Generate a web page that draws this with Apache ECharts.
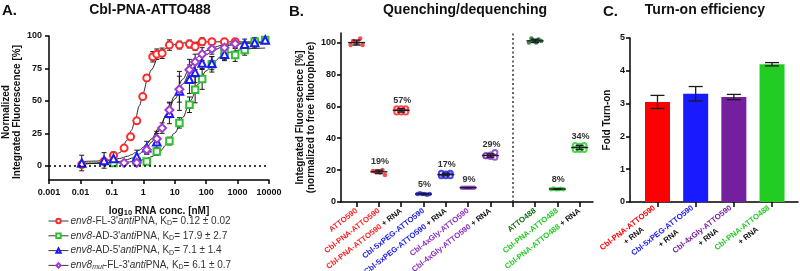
<!DOCTYPE html>
<html>
<head>
<meta charset="utf-8">
<script src="https://cdn.jsdelivr.net/npm/echarts@6.0.0/dist/echarts.min.js"></script>
<style>
html,body{margin:0;padding:0;background:#ffffff;}
#chart{width:800px;height:271px;}
</style>
</head>
<body>
<div id="chart"></div>
<script>
// ================= DATA =================
// ---- Panel A: binding curves ----
const aTickLabels = ['0.001', '0.01', '0.1', '1', '10', '100', '1000', '10000'];
const aYTicks = [0, 25, 50, 75, 100];

// env8-FL-3'antiPNA (red circles)
const redConc = [0.011, 0.0565, 0.113, 0.245, 0.394, 0.62, 0.96, 1.29, 2.0, 2.69, 3.97, 6.78, 14.1, 29.4, 44.6, 74.6, 152, 383, 839];
const redVal  = [0.8, 3.3, 7.9, 13.6, 22.3, 34.6, 53.3, 67.7, 84, 86, 86.7, 93, 93, 93.8, 92, 95.6, 95.6, 95.6, 95.6];
const redSD   = [0.5, 1, 1.5, 1.5, 2, 2, 2, 2.5, 4, 4, 4, 4, 3, 3, 3, 3, 2, 2, 2];

// env8-AD-3'antiPNA (green squares)
const greenConc = [0.113, 0.62, 1.29, 2.69, 6.78, 14.1, 29.4, 44.6, 74.6, 152, 383, 839, 1685, 3505, 7586];
const greenVal  = [2.1, 3.3, 3.3, 11, 19, 33, 47, 58.5, 66.9, 78.2, 86.7, 85.4, 89.2, 95.6, 96.9];
const greenSD   = [1, 1, 1.5, 3, 3, 4, 6, 10, 8, 6, 5, 5, 4, 3, 2];

// env8-AD-5'antiPNA (blue triangles)
const blueConc = [0.011, 0.0565, 0.113, 0.62, 1.29, 2.69, 6.78, 14.1, 29.4, 44.6, 74.6, 152, 383, 1685, 3505, 7586];
const blueVal  = [2.1, 4.1, 5.5, 7, 13.8, 18.5, 40.4, 57.7, 66.7, 72, 79.2, 79, 86, 93.6, 94.9, 96.9];
const blueSD   = [6, 6, 5, 5, 5, 8, 8, 15, 11, 8, 5, 5, 5, 4, 4, 2];

// env8mut-FL-3'antiPNA (purple diamonds)
const purpleConc = [0.245, 0.62, 1.29, 2.69, 3.97, 6.78, 14.1, 29.4, 44.6, 74.6, 152, 383, 839];
const purpleVal  = [2.2, 2.3, 12.3, 20.8, 29, 43, 59, 74, 80, 86, 90, 91, 94];
const purpleSD   = [1, 1, 3, 4, 4, 6, 10, 8, 6, 5, 4, 4, 3];

// fitted curves
const fitConc   = [0.01, 0.0316, 0.0562, 0.1, 0.178, 0.316, 0.422, 0.562, 0.75, 1, 1.33, 1.78, 3.16, 5.62, 10, 17.8, 31.6, 56.2, 100, 178, 316, 562, 1000, 1778, 3162, 7586];
const redFit    = [1.13, 1.75, 2.75, 5.04, 10.05, 20, 27.4, 36.3, 46.2, 56.3, 65.7, 73.8, 84.9, 90.7, 93.4, 94.6, 95.1, 95.3, 95.4, 95.5, 95.5, 95.5, 95.5, 95.5, 95.5, 95.5];
const greenFit  = [2.02, 2.07, 2.14, 2.25, 2.46, 2.83, 3.12, 3.51, 4.03, 4.72, 5.65, 6.86, 10.5, 16.4, 25.2, 37, 50.3, 62.9, 73.1, 80.2, 84.7, 87.5, 89, 89.9, 90.4, 90.75];
const blueFit   = [3.2, 3.57, 3.95, 4.59, 5.64, 7.34, 8.54, 10.1, 11.95, 14.3, 17.1, 20.5, 29, 39.6, 51.4, 62.9, 72.7, 80.3, 85.6, 89.2, 91.4, 92.8, 93.7, 94.2, 94.5, 94.8];
const purpleFit = [1.6, 1.82, 2.07, 2.52, 3.33, 4.76, 5.83, 7.24, 9.06, 11.4, 14.3, 18, 27.6, 40, 53.8, 66.6, 76.8, 84, 88.6, 91.3, 92.9, 93.9, 94.4, 94.7, 94.8, 95];

// ---- Panel B: quenching / dequenching (replicates, %) ----
const bNames   = ['ATTO590', 'Cbl-PNA-ATTO590', 'Cbl-PNA-ATTO590', 'Cbl-5xPEG-ATTO590', 'Cbl-5xPEG-ATTO590', 'Cbl-4xGly-ATTO590', 'Cbl-4xGly-ATTO590', '', 'ATTO488', 'Cbl-PNA-ATTO488', 'Cbl-PNA-ATTO488'];
const bWithRNA = [false, false, true, false, true, false, true, false, false, false, true];
const bPctLabels = ['', '19%', '57%', '5%', '17%', '9%', '29%', '', '', '8%', '34%'];
const bYTicks = [0, 20, 40, 60, 80, 100];
const bATTO590    = [98.5, 101, 99.5, 100, 102.5, 98.5];
const bPNA590     = [19.5, 19, 19.5, 18.5, 20, 17];
const bPNA590RNA  = [58.5, 56.5, 58.5, 56.5, 58.5, 56.5];
const bPEG590     = [5, 5.5, 5, 5, 4.5, 5];
const bPEG590RNA  = [16.5, 18, 17.5, 16.5, 18, 16.5];
const bGly590     = [9, 9, 9, 9, 9, 9];
const bGly590RNA  = [29, 29, 28.5, 29.5, 31, 28];
const bATTO488    = [100, 102.5, 101, 100, 102, 101];
const bPNA488     = [8, 8.5, 8, 8, 8.3, 8];
const bPNA488RNA  = [35.5, 33, 35, 33, 35.5, 33];

// ---- Panel C: turn-on efficiency ----
const cNames = ['Cbl-PNA-ATTO590', 'Cbl-5xPEG-ATTO590', 'Cbl-4xGly-ATTO590', 'Cbl-PNA-ATTO488'];
const cFold  = [3.05, 3.3, 3.2, 4.2];
const cErr   = [0.2, 0.22, 0.08, 0.05];
const cYTicks = [0, 1, 2, 3, 4, 5];

// ================= STYLE / LAYOUT =================
const FONT = '"Liberation Sans", Arial, Helvetica, sans-serif';
const INK = '#111';
const RED = '#ff2a2a', GREEN_A = '#2fbf2f', BLUE = '#1a1aff', PURPLE_A = '#a13ad0';
const B_RED = '#ff1f1f', B_BLUE = '#1b1be6', B_PURPLE = '#8a2fbf', B_DKGREEN = '#0d6e0d', B_GREEN = '#22cc22';
const jitterFilled = [-0.27, -0.16, -0.05, 0.05, 0.16, 0.27];
const jitterOpen   = [-0.2, -0.2, 0, 0, 0.2, 0.2];

const chart = echarts.init(document.getElementById('chart'), null, {renderer: 'canvas'});

function axisCommon() {
  return {
    axisLine: {onZero: false, lineStyle: {color: '#000', width: 1.5}},
    axisTick: {length: 4, lineStyle: {color: '#000', width: 1.5}},
    splitLine: {show: false},
    axisLabel: {color: INK, fontSize: 9, fontWeight: 'bold', fontFamily: FONT, margin: 6}
  };
}
function merge(a, b) {
  const o = Object.assign({}, a);
  for (const k in b) {
    if (b[k] && typeof b[k] === 'object' && !Array.isArray(b[k]) && a[k] && typeof a[k] === 'object') o[k] = Object.assign({}, a[k], b[k]);
    else o[k] = b[k];
  }
  return o;
}

function errRender(capPx, lw) {
  return function (params, api) {
    const x = api.value(0), y = api.value(1), e = api.value(2);
    const t = api.coord([x, y + e]);
    const b = api.coord([x, y - e]);
    const st = {stroke: '#1a1a1a', lineWidth: lw, fill: null};
    return {type: 'group', children: [
      {type: 'line', shape: {x1: t[0], y1: t[1], x2: b[0], y2: b[1]}, style: st},
      {type: 'line', shape: {x1: t[0] - capPx, y1: t[1], x2: t[0] + capPx, y2: t[1]}, style: st},
      {type: 'line', shape: {x1: b[0] - capPx, y1: b[1], x2: b[0] + capPx, y2: b[1]}, style: st}
    ]};
  };
}

// ---------- Panel A series ----------
const aSets = [
  {name: "env8-FL-3'antiPNA", conc: redConc, val: redVal, sd: redSD, fit: redFit, color: RED, symbol: 'emptyCircle', size: 7},
  {name: "env8-AD-3'antiPNA", conc: greenConc, val: greenVal, sd: greenSD, fit: greenFit, color: GREEN_A, symbol: 'emptyRect', size: 6.5},
  {name: "env8-AD-5'antiPNA", conc: blueConc, val: blueVal, sd: blueSD, fit: blueFit, color: BLUE, symbol: 'emptyTriangle', size: 7.5},
  {name: "env8mut-FL-3'antiPNA", conc: purpleConc, val: purpleVal, sd: purpleSD, fit: purpleFit, color: PURPLE_A, symbol: 'emptyDiamond', size: 8}
];
const legendRich = {
  "env8-FL-3'antiPNA": "{i|env8}{n|-FL-3'}{i|anti}{n|PNA, K}{s|D}{n|= 0.12 ± 0.02}",
  "env8-AD-3'antiPNA": "{i|env8}{n|-AD-3'}{i|anti}{n|PNA, K}{s|D}{n|= 17.9 ± 2.7}",
  "env8-AD-5'antiPNA": "{i|env8}{n|-AD-5'}{i|anti}{n|PNA, K}{s|D}{n|= 7.1 ± 1.4}",
  "env8mut-FL-3'antiPNA": "{i|env8}{si|mut}{n|-FL-3'}{i|anti}{n|PNA, K}{s|D}{n|= 6.1 ± 0.7}"
};

const series = [];
aSets.forEach((s, idx) => {
  series.push({
    name: 'fit' + idx, type: 'line', xAxisIndex: 0, yAxisIndex: 0, z: 2, silent: true,
    showSymbol: false, symbol: 'none', smooth: 0.35, smoothMonotone: 'x',
    lineStyle: {color: '#262626', width: 1},
    data: fitConc.map((c, i) => [c, s.fit[i]]),
    markLine: idx === 0 ? {silent: true, symbol: 'none', label: {show: false},
      lineStyle: {type: [2, 3], color: '#000', width: 1.5}, data: [{yAxis: 0}]} : undefined
  });
  series.push({
    name: 'err' + idx, type: 'custom', xAxisIndex: 0, yAxisIndex: 0, z: 3, silent: true,
    renderItem: errRender(2.5, 1),
    data: s.conc.map((c, i) => [c, s.val[i], s.sd[i]])
  });
});
aSets.forEach((s) => {
  series.push({
    name: s.name, type: 'line', xAxisIndex: 0, yAxisIndex: 0, z: 4,
    symbol: s.symbol, symbolSize: s.size, showAllSymbol: true,
    lineStyle: {color: '#3a3a3a', opacity: 0, width: 1},
    itemStyle: {color: s.color, borderColor: s.color, borderWidth: 1},
    data: s.conc.map((c, i) => [c, s.val[i]])
  });
});

// ---------- Panel B series ----------
const bGroups = [
  {k: 0, data: bATTO590, color: B_RED, open: false},
  {k: 1, data: bPNA590, color: B_RED, open: false},
  {k: 2, data: bPNA590RNA, color: B_RED, open: true},
  {k: 3, data: bPEG590, color: B_BLUE, open: false},
  {k: 4, data: bPEG590RNA, color: B_BLUE, open: true},
  {k: 5, data: bGly590, color: B_PURPLE, open: false},
  {k: 6, data: bGly590RNA, color: B_PURPLE, open: true},
  {k: 8, data: bATTO488, color: B_DKGREEN, open: false},
  {k: 9, data: bPNA488, color: B_GREEN, open: false},
  {k: 10, data: bPNA488RNA, color: B_GREEN, open: true}
];
bGroups.forEach((g, gi) => {
  const jit = g.open ? jitterOpen : jitterFilled;
  series.push({
    name: 'B' + g.k, type: 'scatter', xAxisIndex: 1, yAxisIndex: 1, z: 3,
    symbol: g.open ? 'emptyCircle' : 'circle', symbolSize: g.open ? 5 : 4.5,
    itemStyle: {color: g.color, borderColor: g.color, borderWidth: g.open ? 1 : 0},
    data: g.data.map((v, i) => [g.k + jit[i], v]),
    markLine: gi === 0 ? {silent: true, symbol: 'none', label: {show: false},
      lineStyle: {type: [2, 2.5], color: '#333', width: 1.5}, data: [{xAxis: 7}]} : undefined
  });
});
const bSummary = bGroups.map(g => {
  const n = g.data.length;
  const m = g.data.reduce((a, b) => a + b, 0) / n;
  const sd = Math.sqrt(g.data.reduce((a, b) => a + (b - m) * (b - m), 0) / (n - 1));
  return [g.k, m, sd, Math.max.apply(null, g.data)];
});
series.push({
  name: 'Bmean', type: 'custom', xAxisIndex: 1, yAxisIndex: 1, z: 5, silent: true,
  data: bSummary,
  renderItem: function (params, api) {
    const k = api.value(0), m = api.value(1), sd = api.value(2), mx = api.value(3);
    const c = api.coord([k, m]);
    const t = api.coord([k, m + sd]), b = api.coord([k, m - sd]);
    const top = api.coord([k, mx]);
    const st = {stroke: '#1c1c2a', lineWidth: 1.4};
    const kids = [
      {type: 'line', shape: {x1: c[0] - 8.5, y1: c[1], x2: c[0] + 8.5, y2: c[1]}, style: st},
      {type: 'line', shape: {x1: t[0], y1: t[1], x2: b[0], y2: b[1]}, style: st},
      {type: 'line', shape: {x1: t[0] - 4, y1: t[1], x2: t[0] + 4, y2: t[1]}, style: st},
      {type: 'line', shape: {x1: b[0] - 4, y1: b[1], x2: b[0] + 4, y2: b[1]}, style: st}
    ];
    const lbl = bPctLabels[Math.round(k)];
    if (lbl) {
      kids.push({type: 'text', x: c[0] + 1, y: top[1] - 4,
        style: {text: lbl, fill: '#333', font: 'bold 9px ' + FONT, align: 'center', verticalAlign: 'bottom'}});
    }
    return {type: 'group', children: kids};
  }
});

// ---------- Panel C series ----------
const cColors = ['#ff0000', '#1a1aff', '#74209e', '#22cc22'];
series.push({
  name: 'Cbars', type: 'bar', xAxisIndex: 2, yAxisIndex: 2, z: 2, barWidth: 25,
  data: cFold.map((v, i) => ({value: [i, v], itemStyle: {color: cColors[i]}}))
});
series.push({
  name: 'Cerr', type: 'custom', xAxisIndex: 2, yAxisIndex: 2, z: 5, silent: true,
  renderItem: errRender(7, 1.3),
  data: cFold.map((v, i) => [i, v, cErr[i]])
});

// ================= OPTION =================
const bRichBase = {fontSize: 7.8, fontWeight: 'bold', fontFamily: FONT};
const bKeyOf = ['r', 'r', 'r', 'b', 'b', 'p', 'p', 'k', 'd', 'g', 'g'];
const cKeyOf = ['r', 'b', 'p', 'g'];

const option = {
  animation: false,
  backgroundColor: '#ffffff',
  title: [
    {text: 'A.', left: 2, top: 3, padding: 0, textStyle: {fontSize: 15, fontWeight: 'bold', color: INK, fontFamily: FONT}},
    {text: 'Cbl-PNA-ATTO488', left: 150, top: 3, padding: 0, textAlign: 'center', textStyle: {fontSize: 14, fontWeight: 'bold', color: INK, fontFamily: FONT}},
    {text: 'B.', left: 289, top: 4, padding: 0, textStyle: {fontSize: 15, fontWeight: 'bold', color: INK, fontFamily: FONT}},
    {text: 'Quenching/dequenching', left: 465, top: 3, padding: 0, textAlign: 'center', textStyle: {fontSize: 14, fontWeight: 'bold', color: INK, fontFamily: FONT}},
    {text: 'C.', left: 603, top: 4, padding: 0, textStyle: {fontSize: 15, fontWeight: 'bold', color: INK, fontFamily: FONT}},
    {text: 'Turn-on efficiency', left: 705, top: 3, padding: 0, textAlign: 'center', textStyle: {fontSize: 14, fontWeight: 'bold', color: INK, fontFamily: FONT}}
  ],
  legend: {
    data: aSets.map(s => s.name),
    orient: 'vertical', left: 48, top: 216, padding: 0,
    itemWidth: 20, itemHeight: 5.5, itemGap: 4.3,
    selectedMode: false,
    lineStyle: {opacity: 1, width: 1},
    formatter: name => legendRich[name],
    textStyle: {
      color: '#333', fontSize: 10, fontFamily: FONT, padding: [0, 0, 0, -3],
      rich: {
        n: {fontSize: 10, fontFamily: FONT, color: '#333', lineHeight: 11},
        i: {fontSize: 10, fontFamily: FONT, color: '#333', fontStyle: 'italic', lineHeight: 11},
        s: {fontSize: 7, fontFamily: FONT, color: '#333', lineHeight: 5, verticalAlign: 'bottom'},
        si: {fontSize: 7, fontFamily: FONT, color: '#333', fontStyle: 'italic', lineHeight: 5, verticalAlign: 'bottom'}
      }
    }
  },
  grid: [
    {left: 49, top: 36, width: 220, height: 144, outerBoundsMode: 'none', containLabel: false},
    {left: 341, top: 33, width: 252, height: 169, outerBoundsMode: 'none', containLabel: false},
    {left: 630, top: 38, width: 168, height: 164, outerBoundsMode: 'none', containLabel: false}
  ],
  xAxis: [
    merge(axisCommon(), {
      type: 'log', gridIndex: 0, logBase: 10, min: 0.001, max: 10000, splitNumber: 7,
      axisLabel: {color: INK, fontSize: 9, fontWeight: 'bold', fontFamily: FONT, margin: 8,
        formatter: v => aTickLabels[Math.round(Math.log10(v)) + 3] || ''},
      name: '{a|log}{s|10}{a| RNA conc. [nM]}', nameLocation: 'middle', nameGap: 25,
      nameTextStyle: {rich: {
        a: {fontSize: 10, fontWeight: 'bold', color: INK, fontFamily: FONT, lineHeight: 12},
        s: {fontSize: 7.5, fontWeight: 'bold', color: INK, fontFamily: FONT, lineHeight: 6, verticalAlign: 'bottom'}
      }}
    }),
    merge(axisCommon(), {
      type: 'value', gridIndex: 1, min: -0.7, max: 10.6,
      axisTick: {length: 5, lineStyle: {color: '#000', width: 1.5}, customValues: [0, 1, 2, 3, 4, 5, 6, 7, 8, 9, 10]},
      axisLabel: {
        customValues: [0, 1, 2, 3, 4, 5, 6, 8, 9, 10], rotate: 38, margin: 8,
        showMinLabel: true, showMaxLabel: true,
        fontSize: 7.8, fontWeight: 'bold', fontFamily: FONT,
        formatter: v => {
          const k = Math.round(v);
          if (!bNames[k]) return '';
          return '{' + bKeyOf[k] + '|' + bNames[k] + '}' + (bWithRNA[k] ? '{k| + RNA}' : '');
        },
        rich: {
          r: Object.assign({color: B_RED}, bRichBase),
          b: Object.assign({color: B_BLUE}, bRichBase),
          p: Object.assign({color: B_PURPLE}, bRichBase),
          d: Object.assign({color: B_DKGREEN}, bRichBase),
          g: Object.assign({color: B_GREEN}, bRichBase),
          k: Object.assign({color: '#111'}, bRichBase)
        }
      }
    }),
    merge(axisCommon(), {
      type: 'value', gridIndex: 2, min: -0.72, max: 3.68,
      axisTick: {length: 5, lineStyle: {color: '#000', width: 1.5}, customValues: [0, 1, 2, 3]},
      axisLabel: {
        customValues: [0, 1, 2, 3], rotate: 38, margin: 9,
        showMinLabel: true, showMaxLabel: true,
        fontSize: 7.8, fontWeight: 'bold', fontFamily: FONT, lineHeight: 10,
        formatter: v => {
          const k = Math.round(v);
          return '{' + cKeyOf[k] + '|' + cNames[k] + '}\n{k|+ RNA}';
        },
        rich: {
          r: Object.assign({color: '#ff0000', align: 'center', lineHeight: 10}, bRichBase),
          b: Object.assign({color: '#1a1aff', align: 'center', lineHeight: 10}, bRichBase),
          p: Object.assign({color: '#74209e', align: 'center', lineHeight: 10}, bRichBase),
          g: Object.assign({color: '#22cc22', align: 'center', lineHeight: 10}, bRichBase),
          k: Object.assign({color: '#111', align: 'center', lineHeight: 10}, bRichBase)
        }
      }
    })
  ],
  yAxis: [
    merge(axisCommon(), {
      type: 'value', gridIndex: 0, min: -11, max: 100,
      axisTick: {length: 4, lineStyle: {color: '#000', width: 1.5}, customValues: aYTicks},
      axisLabel: {color: INK, fontSize: 9, fontWeight: 'bold', fontFamily: FONT, margin: 7, customValues: aYTicks},
      name: 'Normalized\nIntegrated Fluorescence [%]', nameLocation: 'middle', nameGap: 25, nameRotate: 90,
      nameTextStyle: {fontSize: 10, fontWeight: 'bold', color: INK, fontFamily: FONT, lineHeight: 11, padding: [0, 8, 0, 0]}
    }),
    merge(axisCommon(), {
      type: 'value', gridIndex: 1, min: 0, max: 106,
      axisTick: {length: 4, lineStyle: {color: '#000', width: 1.5}, customValues: bYTicks},
      axisLabel: {color: INK, fontSize: 9, fontWeight: 'bold', fontFamily: FONT, margin: 5, customValues: bYTicks},
      name: 'Integrated Fluorescence [%]\n(normalized to free fluorophore)', nameLocation: 'middle', nameGap: 20, nameRotate: 90,
      nameTextStyle: {fontSize: 10, fontWeight: 'bold', color: INK, fontFamily: FONT, lineHeight: 11}
    }),
    merge(axisCommon(), {
      type: 'value', gridIndex: 2, min: 0, max: 5,
      axisTick: {length: 4, lineStyle: {color: '#000', width: 1.5}, customValues: cYTicks},
      axisLabel: {color: INK, fontSize: 9, fontWeight: 'bold', fontFamily: FONT, margin: 5, customValues: cYTicks},
      name: 'Fold Turn-on', nameLocation: 'middle', nameGap: 18, nameRotate: 90,
      nameTextStyle: {fontSize: 10, fontWeight: 'bold', color: INK, fontFamily: FONT}
    })
  ],
  series: series
};
chart.setOption(option);
</script>
</body>
</html>
